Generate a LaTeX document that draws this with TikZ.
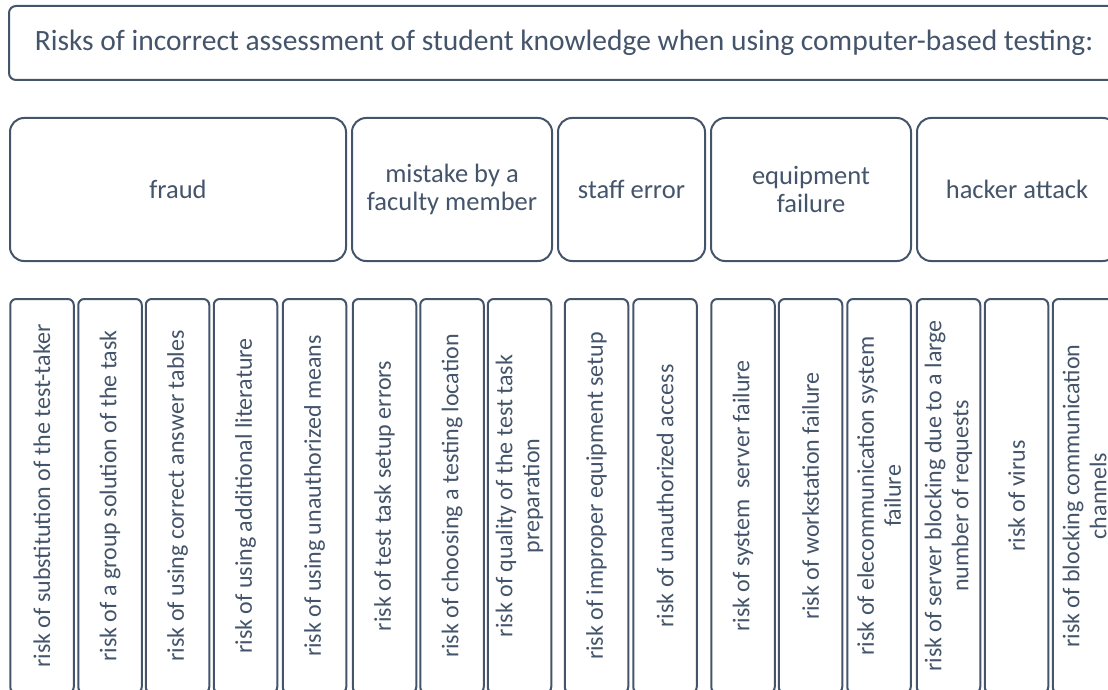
\documentclass[tikz,border=0pt]{standalone}
\usepackage{fontspec}
\setmainfont{Carlito}
\usetikzlibrary{positioning}

\definecolor{slate}{HTML}{44546A}

\tikzset{
box/.style={
  draw=slate,
  line width=2pt,
  text=slate,
  inner sep=2pt,
  align=center,
},
headbox/.style={
  box,
  rounded corners=7pt,
  minimum width=1110pt,
  minimum height=74pt,
  font=\fontsize{29.5}{34}\selectfont,
},
catbox/.style={
  box,
  rounded corners=14pt,
  minimum height=143pt,
  font=\fontsize{26.5}{28.5}\selectfont,
},
riskbox/.style={
  box,
  rotate=90,
  rounded corners=6pt,
  minimum width=394pt,
  minimum height=63.5pt,
  font=\fontsize{24}{27}\selectfont,
},
}

\begin{document}
\begin{tikzpicture}[x=1pt,y=-1pt]
\useasboundingbox (0,0) rectangle (1108,690);

                  % heading
\node[headbox] (title) at (564,43)
  {Risks of incorrect assessment of student knowledge when using computer-based testing:};

                  % categories
\node[catbox,minimum width=336pt,anchor=north west] (fraud) at (9,117) {fraud};
\node[catbox,minimum width=200pt,right=4pt of fraud] (mistake) {mistake by a\\faculty member};
\node[catbox,minimum width=147pt,right=4pt of mistake] (staff) {staff error};
\node[catbox,minimum width=200pt,right=4pt of staff] (equip) {equipment\\failure};
\node[catbox,minimum width=200pt,right=4pt of equip] (hacker) {hacker attack};

                  % fraud
\node[riskbox] (f-1) at (42,496) {risk of substitution of the test-taker};
\node[riskbox] (f-2) at (110,496) {risk of a group solution of the task};
\node[riskbox] (f-3) at (177.5,496) {risk of using correct answer tables};
\node[riskbox] (f-4) at (245.5,496) {risk of using additional literature};
\node[riskbox] (f-5) at (314.5,496) {risk of using unauthorized means};
                  % mistake
\node[riskbox] (m-1) at (384.5,496) {risk of test task setup errors};
\node[riskbox] (m-2) at (452,496) {risk of choosing a testing location};
\node[riskbox] (m-3) at (519.5,496) {risk of quality of the test task\\preparation};
                  % staff
\node[riskbox] (s-1) at (596.5,496) {risk of improper equipment setup};
\node[riskbox] (s-2) at (665,496) {risk of unauthorized access};
                  % equipment
\node[riskbox] (e-1) at (743,496) {risk of system~ server failure};
\node[riskbox] (e-2) at (810.5,496) {risk of workstation failure};
\node[riskbox] (e-3) at (879,496) {risk of elecommunication system\\failure};
                  % hacker
\node[riskbox] (h-1) at (948.5,496) {risk of server blocking due to a large\\number of requests};
\node[riskbox] (h-2) at (1016.5,496) {risk of virus};
\node[riskbox] (h-3) at (1084.5,496) {risk of blocking communication\\channels};
\end{tikzpicture}
\end{document}
